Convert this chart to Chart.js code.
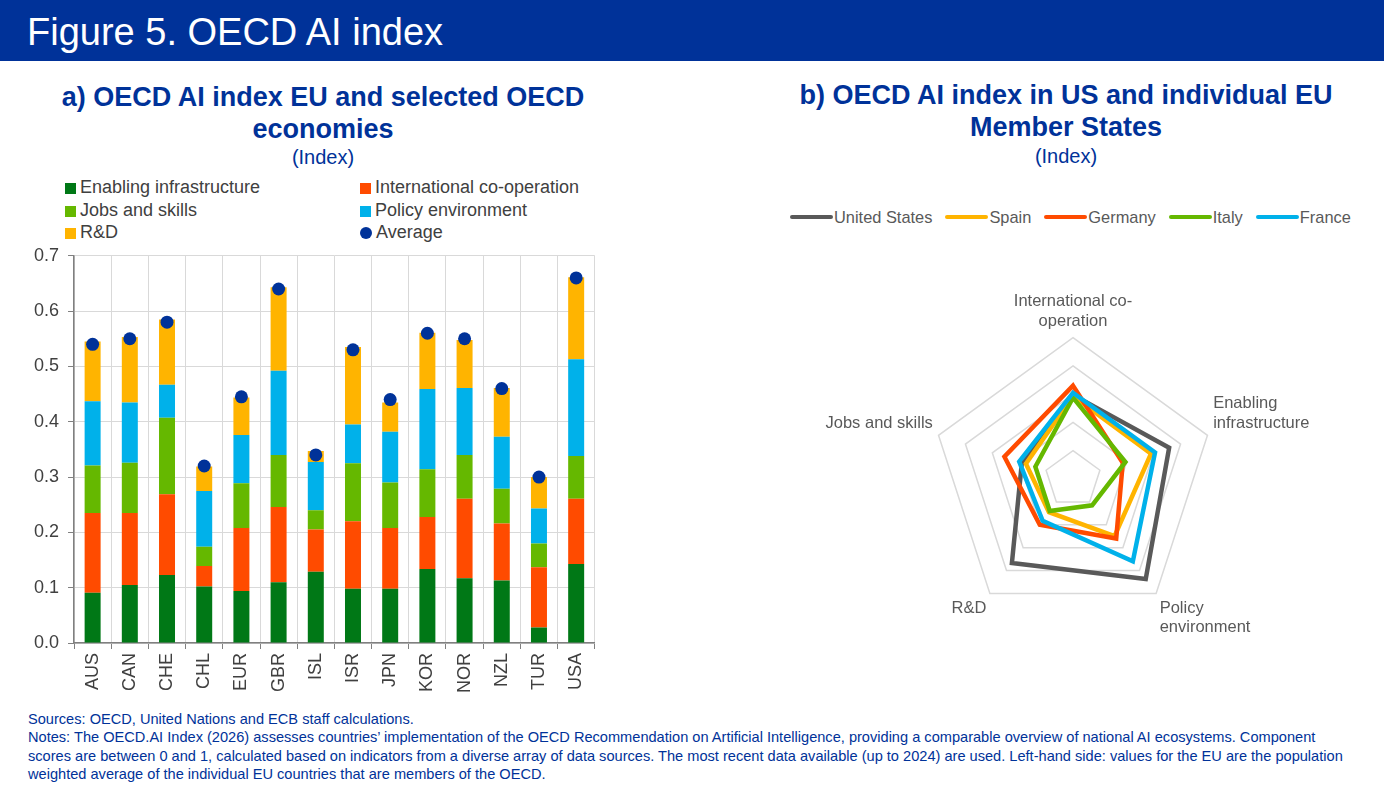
<!DOCTYPE html>
<html>
<head>
<meta charset="utf-8">
<script src="https://cdn.jsdelivr.net/npm/chart.js@4"></script>
<style>
  body { margin: 0; width: 1384px; height: 804px; background: #fff; font-family: "Liberation Sans", Arial, sans-serif; position: relative; overflow: hidden; }
  .header { position: absolute; left: 0; top: 0; width: 1384px; height: 61px; background: #003299; color: #fff; font-size: 38px; line-height: 64px; padding-left: 27px; box-sizing: border-box; }
  .title { position: absolute; color: #003299; font-weight: bold; font-size: 27px; line-height: 32px; text-align: center; }
  .unit { position: absolute; color: #003299; font-size: 20px; text-align: center; }
  .leg { position: absolute; font-size: 18px; color: #404040; white-space: nowrap; line-height: 22px; }
  .leg i { display: inline-block; width: 11px; height: 11px; margin-right: 4px; vertical-align: -1px; }
  .rleg { position: absolute; top: 207px; left: 790px; font-size: 16.4px; color: #595959; white-space: nowrap; line-height: 20px; }
  .rleg span { margin-right: 13px; }
  .rleg i { display: inline-block; width: 43px; height: 4px; border-radius: 2px; vertical-align: 4px; margin-right: 1px; }
  .notes { position: absolute; left: 28px; top: 710px; font-size: 14.6px; line-height: 18.4px; color: #003299; white-space: nowrap; }
</style>
</head>
<body>
<div class="header">Figure 5. OECD AI index</div>

<div class="title" style="left:23px; top:81px; width:600px;">a) OECD AI index EU and selected OECD<br>economies</div>
<div class="unit" style="left:23px; top:146px; width:600px;">(Index)</div>
<div id="barLegend"></div>
<div style="position:absolute; left:25px; top:236px; width:577px; height:461px;"><canvas id="barChart"></canvas></div>

<div class="title" style="left:766px; top:79px; width:600px;">b) OECD AI index in US and individual EU<br>Member States</div>
<div class="unit" style="left:766px; top:145px; width:600px;">(Index)</div>
<div class="rleg" id="radarLegend"></div>
<div style="position:absolute; left:788px; top:275px; width:560px; height:374px;"><canvas id="radarChart"></canvas></div>

<div class="notes">
Sources: OECD, United Nations and ECB staff calculations.<br>
Notes: The OECD.AI Index (2026) assesses countries’ implementation of the OECD Recommendation on Artificial Intelligence, providing a comparable overview of national AI ecosystems. Component<br>
scores are between 0 and 1, calculated based on indicators from a diverse array of data sources. The most recent data available (up to 2024) are used. Left-hand side: values for the EU are the population<br>
weighted average of the individual EU countries that are members of the OECD.
</div>

<script>
// panel a) - component contributions (stacked) and the average
const countries = ["AUS", "CAN", "CHE", "CHL", "EUR", "GBR", "ISL", "ISR", "JPN", "KOR", "NOR", "NZL", "TUR", "USA"];
const enabling = [0.091, 0.105, 0.123, 0.102, 0.094, 0.110, 0.129, 0.098, 0.098, 0.134, 0.117, 0.113, 0.028, 0.143];
const intlCoop = [0.144, 0.130, 0.146, 0.037, 0.114, 0.136, 0.076, 0.122, 0.110, 0.094, 0.144, 0.103, 0.109, 0.118];
const jobsSkills = [0.086, 0.091, 0.138, 0.035, 0.081, 0.094, 0.035, 0.105, 0.082, 0.086, 0.079, 0.063, 0.043, 0.077];
const policyEnv = [0.116, 0.109, 0.060, 0.101, 0.087, 0.152, 0.087, 0.070, 0.092, 0.145, 0.121, 0.094, 0.063, 0.175];
const researchDev = [0.108, 0.118, 0.118, 0.044, 0.068, 0.151, 0.020, 0.140, 0.053, 0.102, 0.087, 0.088, 0.057, 0.148];
const average = [0.54, 0.55, 0.58, 0.32, 0.445, 0.64, 0.34, 0.53, 0.44, 0.56, 0.55, 0.46, 0.30, 0.66];

// panel b) - component scores
const radarAxes = [["International co-", "operation"], ["Enabling", "infrastructure"], ["Policy", "environment"], "R&D", "Jobs and skills"];
const unitedStates = [0.595, 0.715, 0.875, 0.735, 0.38];
const spain = [0.585, 0.58, 0.50, 0.29, 0.35];
const germany = [0.66, 0.37, 0.52, 0.40, 0.51];
const italy = [0.575, 0.39, 0.23, 0.28, 0.28];
const france = [0.61, 0.61, 0.72, 0.365, 0.40];

const FONT = "'Liberation Sans', Arial, sans-serif";

const barSeries = [
  { label: "Enabling infrastructure", data: enabling, color: "#007816" },
  { label: "International co-operation", data: intlCoop, color: "#ff4b00" },
  { label: "Jobs and skills", data: jobsSkills, color: "#65b800" },
  { label: "Policy environment", data: policyEnv, color: "#00b1ea" },
  { label: "R&D", data: researchDev, color: "#ffb400" },
];

// legend for panel a), two columns like the original
const legendItems = barSeries.map(s => ({ label: s.label, color: s.color, round: false }));
legendItems.push({ label: "Average", color: "#003299", round: true });
const barLegend = document.getElementById("barLegend");
legendItems.forEach((it, i) => {
  const d = document.createElement("div");
  d.className = "leg";
  d.style.left = (i % 2 === 0 ? 65 : 360) + "px";
  d.style.top = (176 + Math.floor(i / 2) * 22.5) + "px";
  d.innerHTML = `<i style="background:${it.color};${it.round ? "border-radius:50%;width:12px;height:12px;" : ""}"></i>${it.label}`;
  barLegend.appendChild(d);
});

new Chart(document.getElementById("barChart"), {
  type: "bar",
  data: {
    labels: countries,
    datasets: [
      ...barSeries.map(s => ({
        label: s.label,
        data: s.data,
        backgroundColor: s.color,
        stack: "components",
        order: 1,
        categoryPercentage: 1,
        barPercentage: 0.43,
      })),
      {
        type: "line",
        label: "Average",
        data: average,
        stack: "avg",
        showLine: false,
        pointRadius: 6.5,
        pointBackgroundColor: "#003299",
        pointBorderWidth: 0,
        order: 0,
      },
    ],
  },
  options: {
    responsive: true,
    maintainAspectRatio: false,
    animation: false,
    layout: { padding: { left: 0, right: 5, top: 0, bottom: 0 } },
    plugins: { legend: { display: false }, tooltip: { enabled: false } },
    scales: {
      x: {
        stacked: true,
        grid: { color: "#d9d9d9", tickColor: "#808080", tickLength: 6, offset: true },
        border: { color: "#808080", width: 1.5 },
        ticks: { color: "#404040", font: { family: FONT, size: 18 }, maxRotation: 90, minRotation: 90, padding: 4 },
      },
      y: {
        stacked: true,
        min: 0,
        max: 0.7,
        grid: { color: "#d9d9d9", tickColor: "#808080", tickLength: 6 },
        border: { color: "#808080", width: 1.5 },
        ticks: { stepSize: 0.1, color: "#404040", font: { family: FONT, size: 18 }, padding: 9, callback: v => v.toFixed(1) },
      },
    },
  },
});

const radarSeries = [
  { label: "United States", data: unitedStates, color: "#595959", order: 5 },
  { label: "Spain", data: spain, color: "#ffb400", order: 4 },
  { label: "Germany", data: germany, color: "#ff4b00", order: 3 },
  { label: "Italy", data: italy, color: "#65b800", order: 2 },
  { label: "France", data: france, color: "#00b1ea", order: 1 },
];

document.getElementById("radarLegend").innerHTML = radarSeries
  .map(s => `<span><i style="background:${s.color}"></i>${s.label}</span>`)
  .join("");

new Chart(document.getElementById("radarChart"), {
  type: "radar",
  data: {
    labels: radarAxes,
    datasets: radarSeries.map(s => ({
      label: s.label,
      data: s.data,
      borderColor: s.color,
      borderWidth: 4.5,
      borderJoinStyle: "miter",
      pointRadius: 0,
      fill: false,
      order: s.order,
    })),
  },
  options: {
    responsive: true,
    maintainAspectRatio: false,
    animation: false,
    plugins: { legend: { display: false }, tooltip: { enabled: false } },
    scales: {
      r: {
        min: 0,
        max: 1,
        ticks: { stepSize: 0.2, display: false },
        angleLines: { display: false },
        grid: { color: "#d9d9d9", lineWidth: 1.5 },
        pointLabels: { color: "#595959", font: { family: FONT, size: 16.5 }, padding: 6 },
      },
    },
  },
});
</script>
</body>
</html>
